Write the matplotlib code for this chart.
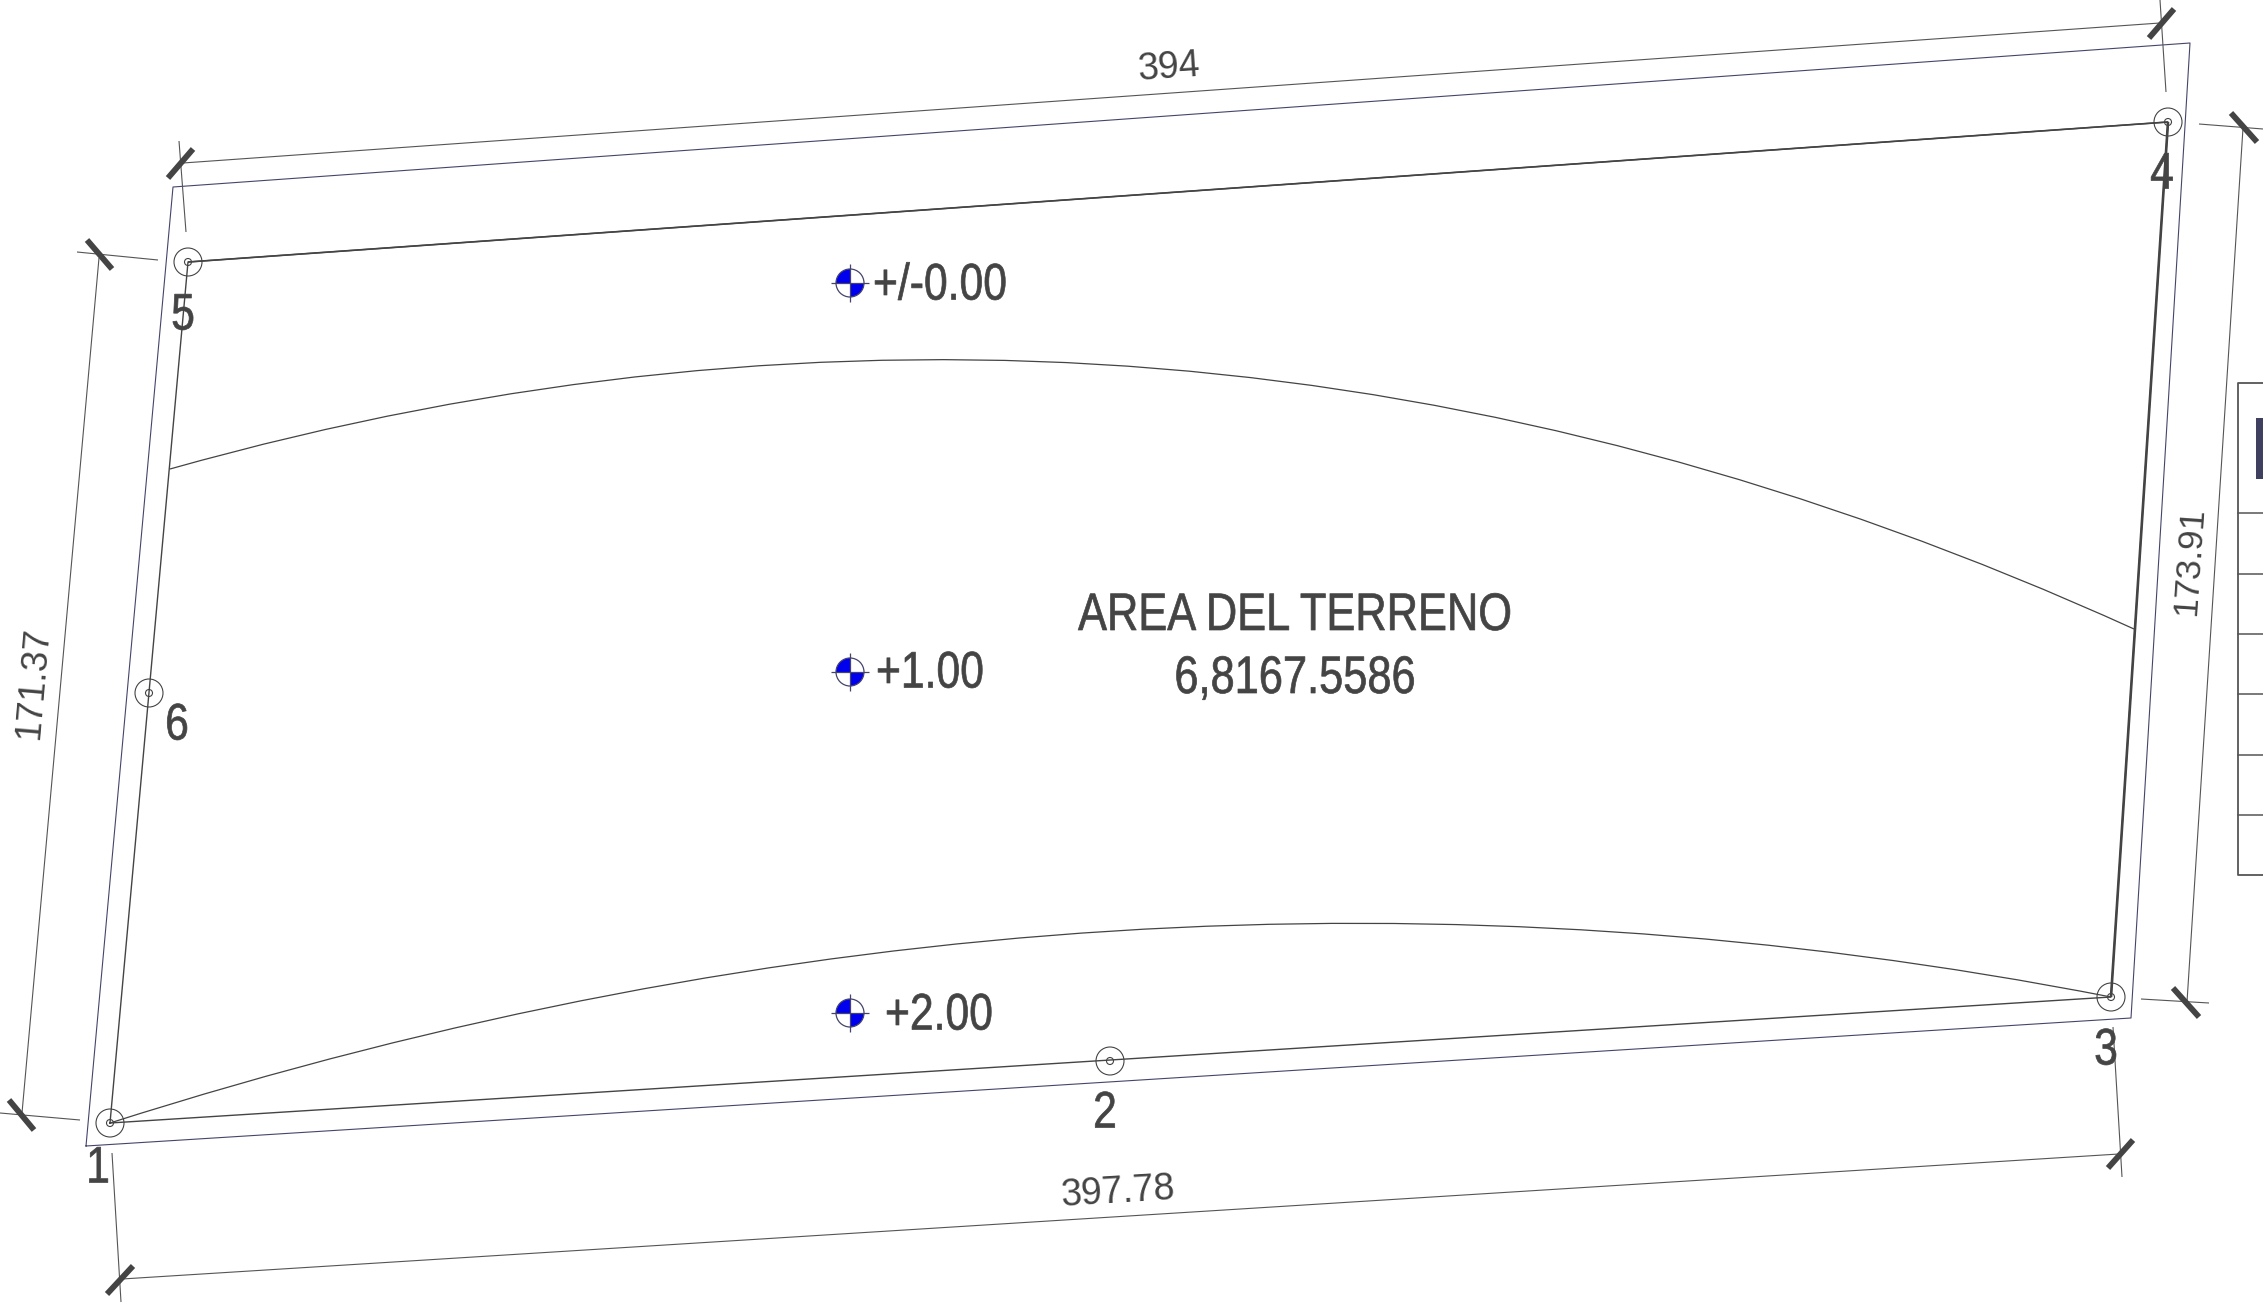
import matplotlib
matplotlib.use('Agg')
import matplotlib.pyplot as plt
from matplotlib.patches import Circle, Wedge, PathPatch
from matplotlib.path import Path
from matplotlib.patheffects import AbstractPathEffect
from matplotlib.transforms import Affine2D

W, H = 2263, 1304
GRAY = '#444444'
BLUE = '#45456b'
FONT = 'Liberation Sans'

pt1 = (110, 1123)
pt2 = (1110, 1061)
pt3 = (2111, 997)
pt4 = (2168, 122)
pt5 = (188, 262)
pt6 = (149, 693)
lot_x = [pt1[0], pt3[0], pt4[0], pt5[0], pt1[0]]
lot_y = [pt1[1], pt3[1], pt4[1], pt5[1], pt1[1]]
boundary_x = [86, 2131, 2190, 173, 86]
boundary_y = [1146, 1018, 43, 187, 1146]

# contour curves: start, control, end
contour_top = [(170, 469), (1165, 188), (2134, 629)]
contour_bottom = [(110, 1123), (1115, 802), (2111, 997)]

# dimension lines
dim_lines = [
    ((183, 163), (2160, 23)),
    ((99, 258), (22, 1113)),
    ((2243, 128), (2187, 1002)),
    ((122, 1279), (2119, 1154)),
]
ext_lines = [
    ((179, 141), (186, 232)),
    ((2160, 0), (2166, 92)),
    ((77, 252), (158, 260)),
    ((0, 1113), (80, 1120)),
    ((2199, 124), (2263, 129)),
    ((2141, 999), (2209, 1003)),
    ((112, 1153), (121, 1302)),
    ((2113, 1027), (2122, 1177)),
]
ticks = [
    ((168, 178), (193, 149)),
    ((2149, 38), (2174, 9)),
    ((87, 240), (112, 269)),
    ((9, 1100), (34, 1130)),
    ((2231, 113), (2257, 142)),
    ((2173, 988), (2199, 1017)),
    ((107, 1294), (133, 1266)),
    ((2108, 1168), (2133, 1140)),
]
dim_labels = ['394', '171.37', '173.91', '397.78']
dim_pos = [(1169, 68), (34, 683), (2190, 561), (1118, 1192)]
dim_rot = [4, 85, 86, 3.6]
dim_size = [27, 26.5, 25.5, 27]

level_labels = ['+/-0.00', '+1.00', '+2.00']
level_text_pos = [(873, 286), (876, 674), (885, 1016)]
level_marks = [(850, 283), (850, 672), (850, 1013)]

point_labels = ['1', '2', '3', '4', '5', '6']
point_label_pos = [(98, 1169), (1105, 1114), (2106, 1051), (2162, 175), (183, 316), (177, 726)]
point_marks = [pt1, pt2, pt3, pt4, pt5, pt6]

table_rows = [383, 513, 574, 634, 694, 755, 815, 875]

fig = plt.figure(figsize=(W / 100, H / 100), dpi=100)
ax = fig.add_axes([0, 0, 1, 1])
ax.set_xlim(0, W)
ax.set_ylim(H, 0)
ax.axis('off')


class SqueezeX(AbstractPathEffect):
    # the plan uses a narrow font, none is installed so squeeze the glyphs about x = cx
    def __init__(self, cx, sx=0.83):
        super().__init__()
        self.cx = cx
        self.sx = sx

    def draw_path(self, renderer, gc, tpath, affine, rgbFace=None):
        t = affine + Affine2D().translate(-self.cx, 0).scale(self.sx, 1).translate(self.cx, 0)
        gc0 = renderer.new_gc()
        gc0.copy_properties(gc)
        gc0.set_foreground(GRAY)
        gc0.set_linewidth(0.5)
        renderer.draw_path(gc0, tpath, t, rgbFace)
        gc0.restore()


def seg(a, b, **kw):
    ax.plot([a[0], b[0]], [a[1], b[1]], solid_capstyle='butt', **kw)


ax.plot(boundary_x, boundary_y, color=BLUE, lw=0.8)
ax.plot(lot_x, lot_y, color=GRAY, lw=1.0)
seg(pt4, pt3, color=GRAY, lw=1.9)
seg(pt5, pt4, color=GRAY, lw=1.2)

for c in (contour_top, contour_bottom):
    ax.add_patch(PathPatch(Path(c, [Path.MOVETO, Path.CURVE3, Path.CURVE3]),
                           fill=False, edgecolor=GRAY, lw=0.9))

for a, b in dim_lines + ext_lines:
    seg(a, b, color='#555555', lw=0.8)
for a, b in ticks:
    seg(a, b, color=GRAY, lw=4.2)

for p in point_marks:
    ax.add_patch(Circle(p, 14, fill=False, edgecolor=GRAY, lw=0.8))
    ax.add_patch(Circle(p, 3.5, fill=False, edgecolor=GRAY, lw=0.8))

for p in level_marks:
    ax.add_patch(Wedge(p, 14, 180, 270, facecolor='#0000ee', edgecolor='none'))
    ax.add_patch(Wedge(p, 14, 0, 90, facecolor='#0000ee', edgecolor='none'))
    ax.add_patch(Circle(p, 14, fill=False, edgecolor=BLUE, lw=0.9))
    seg((p[0] - 19, p[1]), (p[0] + 19, p[1]), color=BLUE, lw=0.9)
    seg((p[0], p[1] - 19), (p[0], p[1] + 19), color=BLUE, lw=0.9)

for s, p, r, fs in zip(dim_labels, dim_pos, dim_rot, dim_size):
    ax.text(p[0], p[1], s, rotation=r, rotation_mode='anchor', ha='center', va='center',
            color=GRAY, fontsize=fs, family=FONT)

for s, p in zip(level_labels, level_text_pos):
    ax.text(p[0], p[1], s, ha='left', va='center', color=GRAY, fontsize=37, family=FONT,
            path_effects=[SqueezeX(p[0])])

for s, p in zip(point_labels, point_label_pos):
    ax.text(p[0], p[1], s, ha='center', va='center', color=GRAY, fontsize=37, family=FONT,
            path_effects=[SqueezeX(p[0])])

ax.text(1295, 616, 'AREA DEL TERRENO', ha='center', va='center', color=GRAY, fontsize=38, family=FONT,
        path_effects=[SqueezeX(1295, 0.822)])
ax.text(1295, 679, '6,8167.5586', ha='center', va='center', color=GRAY, fontsize=38, family=FONT,
        path_effects=[SqueezeX(1295, 0.822)])

# table cut off at the right edge
ax.plot([W, 2238, 2238, W], [table_rows[0], table_rows[0], table_rows[-1], table_rows[-1]], color='#555555', lw=1.3)
for y in table_rows[1:-1]:
    ax.plot([2238, W], [y, y], color='#555555', lw=1.1)
ax.fill([2256, W, W, 2256], [418, 418, 479, 479], color='#3f4060', lw=0)

fig.savefig('out.png', dpi=100, facecolor='white')
